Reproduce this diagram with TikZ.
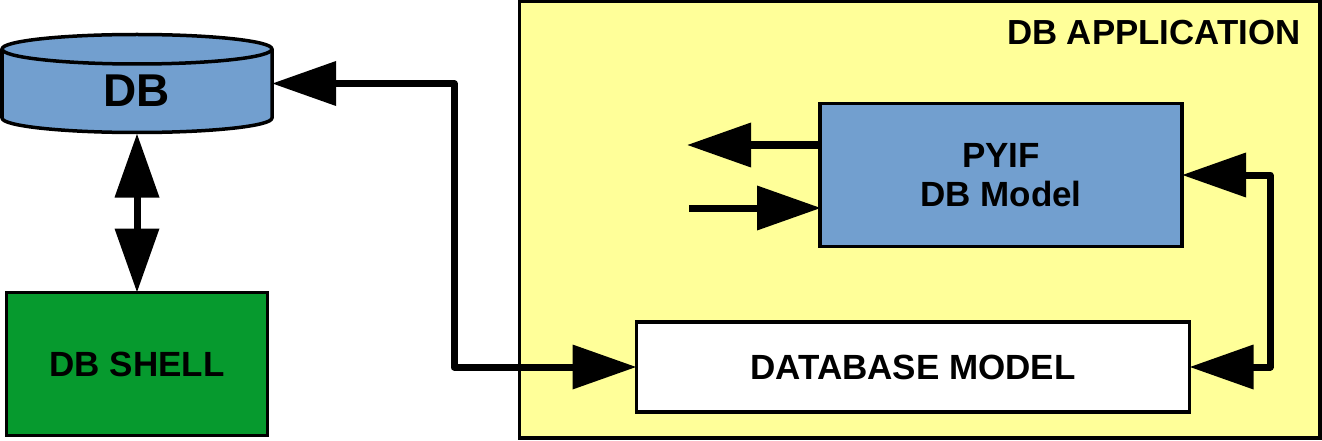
\documentclass[tikz,border=0pt]{standalone}
\usepackage{fontspec}
\setmainfont{Liberation Sans}
\usetikzlibrary{arrows.meta}
\definecolor{dbblue}{HTML}{729FCF}
\definecolor{dbgreen}{HTML}{069A2E}
\definecolor{appyellow}{HTML}{FFFF99}
\tikzset{
  boxnode/.style={draw=black,line width=3.5pt,outer sep=0pt,inner sep=0pt,align=center,font=\bfseries\fontsize{35}{39}\selectfont},
  link/.style={draw=black,line width=7pt,line join=round,line cap=butt},
  bigtip/.tip={Triangle[length=64pt,width=43pt]}
}
\begin{document}
\begin{tikzpicture}[x=1pt,y=-1pt]
\useasboundingbox (0,0) rectangle (1322,441);
% application frame
\node[boxnode,fill=appyellow,minimum width=800.5pt,minimum height=436.5pt] (app) at (919.75,219.75) {};
\node[anchor=base east,inner sep=0pt,font=\bfseries\fontsize{34.8}{38}\selectfont] (apptitle) at (1300.5,45) {DB APPLICATION};
% database cylinder
\filldraw[fill=dbblue,draw=black,line width=3.5pt,line join=round]
  (2,49) -- (2,118) arc[start angle=180,end angle=360,x radius=135,y radius=-14.5] -- (272,49)
  arc[start angle=0,end angle=180,x radius=135,y radius=-14.5] -- cycle;
\draw[black,line width=3.5pt] (2,49) arc[start angle=180,end angle=360,x radius=135,y radius=-15];
\node[inner sep=0pt,outer sep=0pt,minimum width=272pt,minimum height=100pt,font=\bfseries\fontsize{46}{50}\selectfont] (db) at (137,83.5) {\raisebox{-23.5pt}[0pt][0pt]{DB}};
% boxes
\node[boxnode,fill=dbgreen,minimum width=261pt,minimum height=143pt] (shell) at (137,364) {DB SHELL};
\node[boxnode,fill=dbblue,minimum width=362pt,minimum height=143pt] (pyif) at (1001,175) {PYIF\\DB Model};
\node[boxnode,fill=white,minimum width=553pt,minimum height=90pt] (model) at (913,367) {DATABASE MODEL};
% free ends and bends
\coordinate (outa) at (687,145);
\coordinate (ina) at (689,208);
\coordinate (bendl) at (454,83.5);
\coordinate (bendr) at (1270,175);
% connectors
\draw[link,{bigtip}-{bigtip}] ([xshift=-1pt]db.east) -- (bendl) |- (model.west);
\draw[link,{bigtip}-{bigtip}] (db.south) -- (shell.north);
\draw[link,{bigtip}-{bigtip}] (pyif.east) -- (bendr) |- (model.east);
\draw[link,-{bigtip}] (pyif.west |- outa) -- (outa);
\draw[link,-{bigtip}] (ina) -- ([xshift=1pt]pyif.west |- ina);
\end{tikzpicture}
\end{document}
